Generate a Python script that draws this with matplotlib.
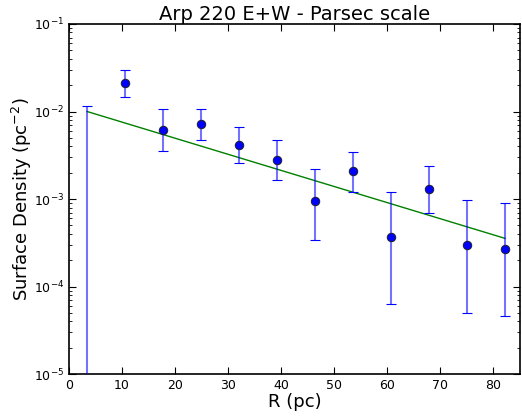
import numpy as np
import matplotlib
matplotlib.use('Agg')
import matplotlib.pyplot as plt

# radial bins (pc) and surface density with asymmetric errors
R = [3.45, 10.66, 17.7, 24.9, 32.1, 39.2, 46.4, 53.6, 60.75, 67.9, 75.0, 82.2]
sigma = [1e-6, 0.0212, 0.00615, 0.0072, 0.00414, 0.00283, 0.000957, 0.00207,
         0.000368, 0.00131, 0.000298, 0.00027]
upper = [0.01155, 0.0298, 0.0107, 0.0108, 0.00665, 0.00472, 0.00222, 0.00347,
         0.00121, 0.00236, 0.000975, 0.000893]
lower = [1e-9, 0.0147, 0.00354, 0.00472, 0.00258, 0.00165, 0.000343, 0.0012,
         6.3e-5, 0.000685, 5.0e-5, 4.6e-5]

# exponential fit: sigma = A exp(-R/h)
A = 0.01157
h = 23.6

R = np.array(R)
sigma = np.array(sigma)
yerr = [sigma - np.array(lower), np.array(upper) - sigma]

fig = plt.figure(figsize=(5.22, 4.18), dpi=100)
ax = fig.add_axes([0.132, 0.105, 0.864, 0.8376])

eb = ax.errorbar(R, sigma, yerr=yerr, fmt='o', color='blue', ms=6,
                 mec='#202040', mew=0.8, ecolor='blue', elinewidth=1.5,
                 capsize=3.5, capthick=1.2, zorder=3)
eb[2][0].set_alpha(0.55)

ax.plot(R, A * np.exp(-R / h), color='green', lw=1, zorder=2)

ax.set_yscale('log')
ax.set_xlim(0, 85)
ax.set_ylim(1e-5, 1e-1)
ax.tick_params(which='both', direction='in', top=True, right=True, labelsize=9)
ax.tick_params(which='major', length=5)
ax.tick_params(which='minor', length=2.5)
ax.xaxis.set_minor_locator(matplotlib.ticker.NullLocator())
for s in ax.spines.values():
    s.set_linewidth(1.2)

ax.set_title('Arp 220 E+W - Parsec scale', fontsize=14, pad=3)
ax.set_xlabel('R (pc)', fontsize=13, labelpad=1)
ax.set_ylabel('Surface Density (pc$^{-2}$)', fontsize=13, labelpad=0)

fig.savefig('out.png', dpi=100)
